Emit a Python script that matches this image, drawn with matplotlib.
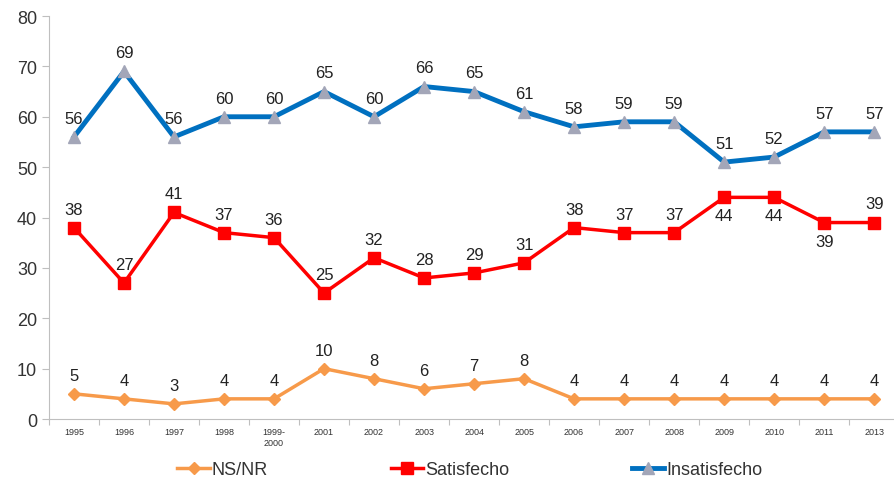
import numpy as np
import matplotlib.pyplot as plt

plt.rcParams['font.family'] = ['Liberation Sans', 'DejaVu Sans']

# data
years = ['1995', '1996', '1997', '1998', '1999-\n2000', '2001', '2002', '2003', '2004',
         '2005', '2006', '2007', '2008', '2009', '2010', '2011', '2013']
nsnr = [5, 4, 3, 4, 4, 10, 8, 6, 7, 8, 4, 4, 4, 4, 4, 4, 4]
satisfecho = [38, 27, 41, 37, 36, 25, 32, 28, 29, 31, 38, 37, 37, 44, 44, 39, 39]
insatisfecho = [56, 69, 56, 60, 60, 65, 60, 66, 65, 61, 58, 59, 59, 51, 52, 57, 57]

# satisfecho labels drawn below the point
below_sat = [13, 14, 15]

orange = '#F79A4A'
red = '#FF0000'
blue = '#0070C0'
grey = '#A3A6B8'

fig = plt.figure(figsize=(8.95, 4.89), dpi=100)
ax = fig.add_axes([0.0547, 0.1411, 0.95, 0.8241])

x = np.arange(len(years))

ax.plot(x, nsnr, color=orange, lw=2.5, marker='D', ms=6, mfc=orange, mec=orange, label='NS/NR')
ax.plot(x, satisfecho, color=red, lw=2.5, marker='s', ms=8, mfc=red, mec=red, label='Satisfecho')
ax.plot(x, insatisfecho, color=blue, lw=3.5, marker='^', ms=9, mfc=grey, mec=grey, label='Insatisfecho')

lab_font = dict(fontsize=12, color='#222222', ha='center')
off = 2.2
for i in x:
    ax.text(i, nsnr[i] + off, str(nsnr[i]), va='bottom', **lab_font)
    ax.text(i, insatisfecho[i] + off, str(insatisfecho[i]), va='bottom', **lab_font)
    if i in below_sat:
        ax.text(i, satisfecho[i] - off, str(satisfecho[i]), va='top', **lab_font)
    else:
        ax.text(i, satisfecho[i] + off, str(satisfecho[i]), va='bottom', **lab_font)

ax.set_xlim(-0.5, len(years) - 0.5)
ax.set_ylim(0, 80)
ax.set_yticks(range(0, 81, 10))
ax.tick_params(axis='y', labelsize=13, length=5, color='#BFBFBF', labelcolor='#333333')
ax.set_xticks(np.arange(-0.5, len(years), 1), minor=False)
ax.set_xticklabels([])
ax.set_xticks(x, minor=True)
ax.set_xticklabels(years, minor=True, fontsize=6.5, color='#333333')
ax.tick_params(axis='x', which='major', length=4, color='#BFBFBF')
ax.tick_params(axis='x', which='minor', length=0, pad=6)

for side in ['top', 'right']:
    ax.spines[side].set_visible(False)
for side in ['left', 'bottom']:
    ax.spines[side].set_color('#BFBFBF')

fig.legend(loc='center', bbox_to_anchor=(0.525, 0.037), ncol=3, frameon=False,
           fontsize=13, handlelength=1.8, handletextpad=0.1, columnspacing=6.8,
           labelcolor='#333333')

fig.savefig('out.png', dpi=100)
